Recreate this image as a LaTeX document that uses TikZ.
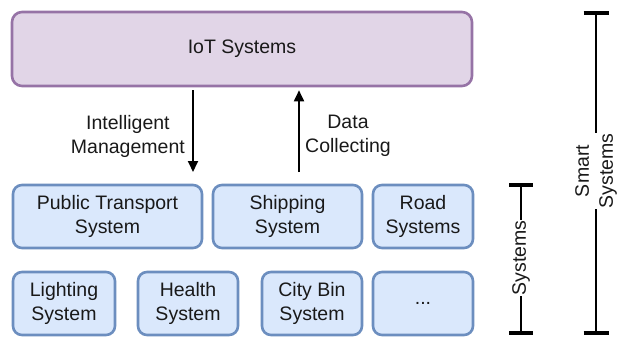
\documentclass[tikz,border=0pt]{standalone}
\usepackage{fontspec}
\setmainfont{Liberation Sans}
\usetikzlibrary{arrows.meta}
\begin{document}
\begin{tikzpicture}[x=1pt,y=-1pt,
  every node/.style={font=\fontsize{19.5}{24}\selectfont, text=black!90},
  iotbox/.style={draw=purpleline, fill=purplefill, line width=2.6pt, rounded corners=10pt, inner sep=0pt},
  sysbox/.style={draw=blueline, fill=bluefill, line width=2.6pt, rounded corners=9pt, align=center, inner sep=0pt, minimum height=63pt},
  flow/.style={line width=1.8pt, -{Triangle[length=11pt,width=10pt]}},
  caption/.style={align=center, inner sep=0pt},
  spanline/.style={line width=2.8pt},
  spancap/.style={line width=4.5pt},
  spanlabel/.style={rotate=90, fill=white, align=center, inner sep=1pt}
]
\definecolor{purpleline}{HTML}{9673A6}
\definecolor{purplefill}{HTML}{E1D5E7}
\definecolor{blueline}{HTML}{6C8EBF}
\definecolor{bluefill}{HTML}{DAE8FC}
\useasboundingbox (0,0) rectangle (622,337);

% top layer
\node[iotbox, minimum width=460pt, minimum height=74pt] (iot) at (242,49) {IoT Systems};

% first row of systems
\node[sysbox, minimum width=189pt] (transport) at (107.5,216.5) {Public Transport\\System};
\node[sysbox, minimum width=149pt] (shipping) at (287.5,216.5) {Shipping\\System};
\node[sysbox, minimum width=100pt] (road) at (423,216.5) {Road\\Systems};

% second row of systems
\node[sysbox, minimum width=102pt] (lighting) at (64,303.5) {Lighting\\System};
\node[sysbox, minimum width=100pt] (health) at (188,303.5) {Health\\System};
\node[sysbox, minimum width=100pt] (citybin) at (312,303.5) {City Bin\\System};
\node[sysbox, minimum width=100pt] (more) at (423,303.5) {...};

% flows between the layers
\coordinate (mgmtEnd) at (193,172);
\coordinate (dataStart) at (299,172);
\draw[flow, shorten <=3pt] (iot.south -| mgmtEnd) -- (mgmtEnd);
\draw[flow, shorten >=3pt] (dataStart) -- (iot.south -| dataStart);
\node[caption, anchor=east] (mgmt) at (185,136) {Intelligent\\Management};
\node[caption, anchor=west] (data) at (305,136) {Data\\Collecting};

% spans on the right
\coordinate (sysTop) at (521,185);
\coordinate (sysBot) at (521,333);
\draw[spanline] (sysTop) -- (sysBot);
\draw[spancap] ([xshift=-12pt]sysTop) -- ([xshift=12pt]sysTop);
\draw[spancap] ([xshift=-12pt]sysBot) -- ([xshift=12pt]sysBot);
\node[spanlabel] (sysLabel) at (521,258) {Systems};

\coordinate (smartTop) at (596,13);
\coordinate (smartBot) at (596,333);
\draw[spanline] (smartTop) -- (smartBot);
\draw[spancap] ([xshift=-12.5pt]smartTop) -- ([xshift=12.5pt]smartTop);
\draw[spancap] ([xshift=-12.5pt]smartBot) -- ([xshift=12.5pt]smartBot);
\node[spanlabel] (smartLabel) at (596,171) {Smart\\Systems};
\end{tikzpicture}
\end{document}
